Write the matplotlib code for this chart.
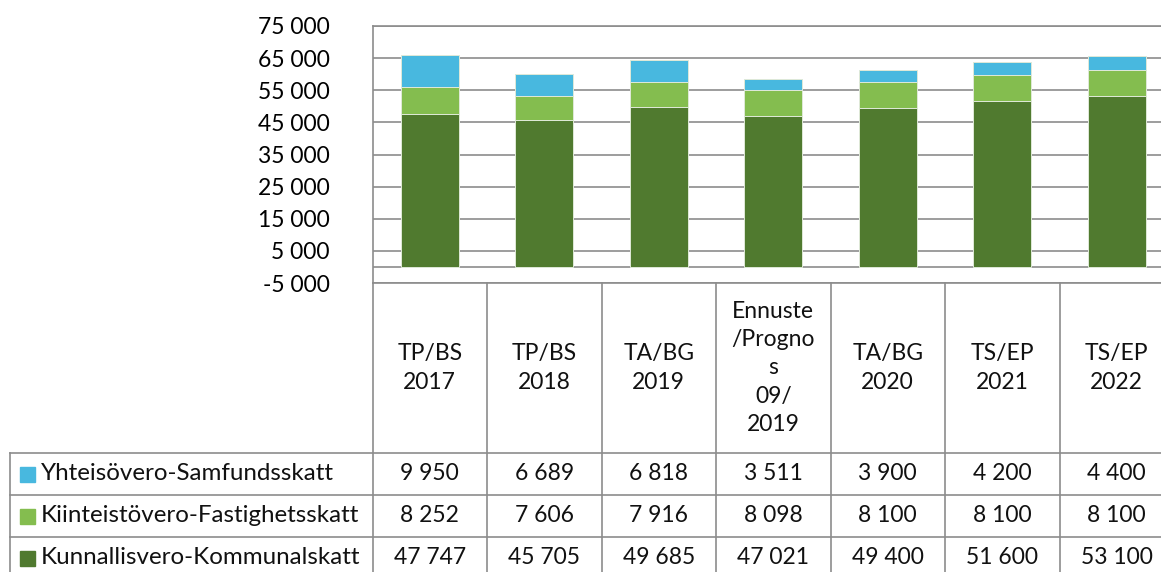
import numpy as np
import matplotlib
matplotlib.use("Agg")
import matplotlib.pyplot as plt

categories = ["TP/BS\n2017", "TP/BS\n2018", "TA/BG\n2019", "Ennuste\n/Progno\ns\n09/\n2019",
              "TA/BG\n2020", "TS/EP\n2021", "TS/EP\n2022"]
kunnallisvero = [47747, 45705, 49685, 47021, 49400, 51600, 53100]
kiinteistovero = [8252, 7606, 7916, 8098, 8100, 8100, 8100]
yhteisovero = [9950, 6689, 6818, 3511, 3900, 4200, 4400]

series_names = ["Yhteisövero-Samfundsskatt", "Kiinteistövero-Fastighetsskatt", "Kunnallisvero-Kommunalskatt"]
series_values = [yhteisovero, kiinteistovero, kunnallisvero]
series_colors = ["#48b8df", "#84bd4f", "#507a2f"]

yticks = np.arange(-5000, 75001, 10000)

def fmt(v):
    return f"{v:,}".replace(",", " ")

plt.rcParams['font.family'] = ['Lato', 'DejaVu Sans']
FS = 16.5
GRAY = "#8c8c8c"

W, H = 1161, 572
fig = plt.figure(figsize=(W / 100, H / 100), dpi=100)

# layout in pixels
left = 372.5
colw = 114.5
top = 26
bottom = 283
n = len(categories)

ax = fig.add_axes([left / W, 1 - bottom / H, n * colw / W, (bottom - top) / H])
x = np.arange(n)
base = np.zeros(n)
for vals, col in zip(series_values[::-1], series_colors[::-1]):
    ax.bar(x, vals, 0.51, bottom=base, color=col, edgecolor="#dfe9d8", linewidth=0.7, zorder=3)
    base += np.array(vals)

ax.set_xlim(-0.5, n - 0.5)
ax.set_ylim(-5000, 75000)
ax.set_yticks(yticks)
ax.set_yticklabels([fmt(v) for v in yticks], fontsize=FS)
ax.tick_params(axis="y", length=0, pad=31)
ax.set_xticks([])
ax.grid(axis="y", color=GRAY, linewidth=1.2, zorder=1)
ax.axhline(0, color=GRAY, linewidth=1.2, zorder=2)
for s in ax.spines.values():
    s.set_color(GRAY)
    s.set_linewidth(1.2)

# data table drawn below in pixel coordinates
tax = fig.add_axes([0, 0, 1, 1])
tax.set_xlim(0, W)
tax.set_ylim(H, 0)
tax.axis("off")

row_top = 453
row_h = 42
table_left = 10
table_bottom = H + 10
lw = 1.2

for i in range(n + 1):
    xv = left + i * colw
    tax.plot([xv, xv], [bottom, table_bottom], color=GRAY, lw=lw, clip_on=False)
tax.plot([table_left, table_left], [row_top, table_bottom], color=GRAY, lw=lw)
for r in range(len(series_names)):
    yv = row_top + r * row_h
    tax.plot([table_left, left + n * colw], [yv, yv], color=GRAY, lw=lw, clip_on=False)

for i, cat in enumerate(categories):
    tax.text(left + (i + 0.5) * colw, (bottom + row_top) / 2, cat, ha="center", va="center",
             fontsize=FS, linespacing=1.42, color="#111111")

for r, (name, vals, col) in enumerate(zip(series_names, series_values, series_colors)):
    yc = row_top + (r + 0.5) * row_h
    tax.add_patch(plt.Rectangle((20, yc - 7.5), 15, 15, color=col))
    tax.text(41, yc, name, ha="left", va="center", fontsize=17.4, color="#111111")
    for i, v in enumerate(vals):
        tax.text(left + (i + 0.5) * colw, yc, fmt(v), ha="center", va="center",
                 fontsize=FS, color="#111111")

fig.savefig("out.png", dpi=100)
